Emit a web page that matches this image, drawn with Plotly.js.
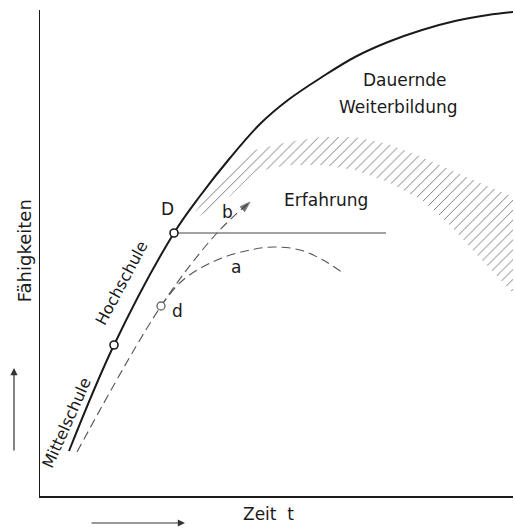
<!DOCTYPE html>
<html><head><meta charset="utf-8">
<script src="https://cdn.plot.ly/plotly-3.0.1.min.js"></script>
<style>body{margin:0;background:#fff}#chart{width:515px;height:531px}</style>
</head><body><div id="chart"></div>
<script>
// Main curve (Mittelschule -> Hochschule -> Dauernde Weiterbildung)
const mainX = [29, 74, 134, 160, 190, 220, 248, 282, 315, 348, 382, 415, 448, 473];
const mainY = [45, 151, 263, 300, 338, 372, 396, 419, 439, 454, 466, 475, 481, 484];
// Dashed line b
const bX = [37, 121, 177, 210];
const bY = [44, 190, 263, 294];
// Dashed curve a
const aX = [121, 143, 177, 210, 235, 260, 283, 303];
const aY = [190, 216, 236, 246, 249, 246, 236, 223];
// Horizontal line from D
const hX = [134, 346];
const hY = [263, 263];
// Hatched band (Erfahrung)
const bandUpX = [155, 190, 215, 248, 282, 315, 348, 382, 415, 448, 473];
const bandUpY = [284, 329, 346, 354, 359, 359, 352, 339, 324, 310, 299];
const bandLoX = [473, 440, 410, 382, 348, 315, 282, 248, 215, 190, 155];
const bandLoY = [203, 238, 271, 296, 314, 326, 331, 331, 324, 300, 277];
// Circles
const circX = [74, 134];
const circY = [151, 263];
const dX = [121];
const dY = [190];

const F = "DejaVu Sans, sans-serif";
const ink = "#1a1a1a";

const traces = [
  {x: bandUpX.concat(bandLoX), y: bandUpY.concat(bandLoY), mode: "lines", fill: "toself",
   line: {width: 0, color: "rgba(0,0,0,0)"}, fillcolor: "rgba(0,0,0,0)",
   fillpattern: {shape: "/", fgcolor: "#7a7a7a", bgcolor: "rgba(255,255,255,0)", size: 7, solidity: 0.14},
   hoverinfo: "skip"},
  {x: hX, y: hY, mode: "lines", line: {color: "#444", width: 1}},
  {x: aX, y: aY, mode: "lines", line: {color: "#555", width: 1.1, dash: "9px,5px", shape: "spline"}},
  {x: bX, y: bY, mode: "lines+markers", line: {color: "#555", width: 1.1, dash: "9px,5px", shape: "spline"},
   marker: {size: [0, 0, 0, 11], symbol: "arrow", angleref: "previous", color: "#333"}},
  {x: mainX, y: mainY, mode: "lines", line: {color: ink, width: 2, shape: "spline", smoothing: 1}},
  {x: circX, y: circY, mode: "markers", marker: {size: 8, color: "#fff", line: {color: ink, width: 1.6}}},
  {x: dX, y: dY, mode: "markers", marker: {size: 8, color: "#fff", line: {color: "#666", width: 1.3}}}
];

const ann = (text, x, y, opt) => Object.assign({text, x, y, xref: "x", yref: "y", showarrow: false,
  font: {family: F, size: 17, color: ink}}, opt || {});

const layout = {
  width: 515, height: 531,
  margin: {l: 40, r: 2, t: 10, b: 35},
  paper_bgcolor: "#fff", plot_bgcolor: "#fff",
  showlegend: false,
  xaxis: {range: [0, 473], showline: true, linecolor: ink, linewidth: 1.5, showgrid: false,
          zeroline: false, showticklabels: false, ticks: ""},
  yaxis: {range: [0, 486], showline: true, linecolor: ink, linewidth: 1.5, showgrid: false,
          zeroline: false, showticklabels: false, ticks: ""},
  annotations: [
    ann("Dauernde", 364, 416),
    ann("Weiterbildung", 358, 389),
    ann("Erfahrung", 286, 296),
    ann("D", 127, 287),
    ann("b", 187, 284),
    ann("a", 196, 229),
    ann("d", 137, 185),
    ann("Hochschule", 81, 213, {textangle: -62, font: {family: F, size: 16, color: ink}}),
    ann("Mittelschule", 26, 73, {textangle: -66, font: {family: F, size: 16, color: ink}}),
    {text: "Fähigkeiten", xref: "paper", yref: "paper", x: -0.059, y: 0.505, showarrow: false,
     textangle: -90, font: {family: F, size: 18, color: ink}},
    {text: "Zeit  t", xref: "paper", yref: "paper", x: 0.484, y: -0.062, showarrow: false,
     font: {family: F, size: 17, color: ink}},
    {text: "", xref: "paper", yref: "paper", x: (14 - 40) / 473, y: (496 - 368) / 486,
     showarrow: true, ax: 0, ay: 84, arrowhead: 2, arrowsize: 1.2, arrowwidth: 1.2, arrowcolor: "#333"},
    {text: "", xref: "paper", yref: "paper", x: (185 - 40) / 473, y: (496 - 523) / 486,
     showarrow: true, ax: -95, ay: 0, arrowhead: 2, arrowsize: 1.2, arrowwidth: 1.2, arrowcolor: "#333"}
  ]
};

Plotly.newPlot("chart", traces, layout, {displayModeBar: false, staticPlot: true});
</script></body></html>
